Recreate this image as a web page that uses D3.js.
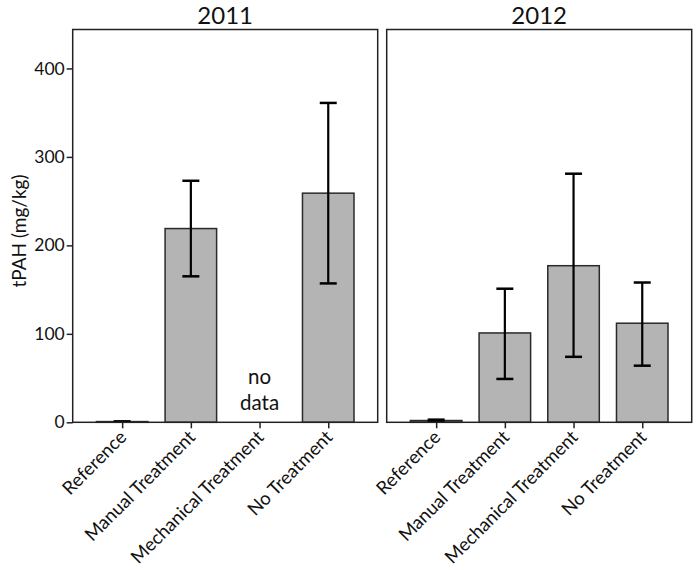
<!DOCTYPE html>
<html><head><meta charset="utf-8">
<script src="https://cdn.jsdelivr.net/npm/d3@7/dist/d3.min.js"></script>
<style>body{margin:0;background:#fff}</style>
</head><body>
<svg id="c" width="696" height="570"></svg>
<script>
const categories = ["Reference", "Manual Treatment", "Mechanical Treatment", "No Treatment"];
const years = ["2011", "2012"];
const means2011 = [0.8, 219, null, 259];
const lower2011 = [0.5, 165, null, 157];
const upper2011 = [1.1, 273, null, 361];
const means2012 = [2, 101, 177, 112];
const lower2012 = [1, 49, 74, 64];
const upper2012 = [3, 151, 281, 158];
const yTicks = [0, 100, 200, 300, 400];
const yLabel = "tPAH (mg/kg)";

const font = "Lato, 'Open Sans', sans-serif";
const svg = d3.select("#c");
const plotTop = 29.5, plotBottom = 422.3;
const y = d3.scaleLinear().domain([0, 444]).range([plotBottom, plotTop]);
const panels = [
  {year: years[0], x0: 72.7, x1: 377.7, m: means2011, lo: lower2011, hi: upper2011},
  {year: years[1], x0: 386.7, x1: 691.7, m: means2012, lo: lower2012, hi: upper2012}
];

panels.forEach((p, pi) => {
  const x = d3.scalePoint().domain(categories).range([p.x0, p.x1]).padding(0.72);
  const bw = x.step() * 0.75;
  const g = svg.append("g");
  categories.forEach((c, i) => {
    if (p.m[i] == null) return;
    g.append("rect").attr("x", x(c) - bw/2).attr("y", y(p.m[i]))
      .attr("width", bw).attr("height", Math.max(0, y(0) - y(p.m[i])))
      .attr("fill", "#b4b4b4").attr("stroke", "#2a2a2a").attr("stroke-width", 1.5);
    if (p.hi[i] - p.lo[i] > 1) {
      g.append("line").attr("x1", x(c)).attr("x2", x(c)).attr("y1", y(p.lo[i])).attr("y2", y(p.hi[i]))
        .attr("stroke", "#000").attr("stroke-width", 2.2);
      [p.lo[i], p.hi[i]].forEach(v => g.append("line").attr("x1", x(c) - 8.5).attr("x2", x(c) + 8.5)
        .attr("y1", y(v)).attr("y2", y(v)).attr("stroke", "#000").attr("stroke-width", 2.5));
    } else {
      g.append("line").attr("x1", x(c) - 8.5).attr("x2", x(c) + 8.5)
        .attr("y1", y(p.hi[i])).attr("y2", y(p.hi[i])).attr("stroke", "#000").attr("stroke-width", 2.5);
    }
  });
  g.append("rect").attr("x", p.x0).attr("y", plotTop).attr("width", p.x1 - p.x0).attr("height", plotBottom - plotTop)
    .attr("fill", "none").attr("stroke", "#222").attr("stroke-width", 1.5);
  const xa = g.append("g").attr("transform", `translate(0,${plotBottom})`)
    .call(d3.axisBottom(x).tickSize(6).tickSizeOuter(0));
  xa.select(".domain").remove();
  xa.selectAll(".tick line").attr("stroke", "#222").attr("stroke-width", 1.5);
  xa.selectAll(".tick text").attr("font-family", font).attr("font-size", 18.5).attr("fill", "#111")
    .attr("text-anchor", "end").attr("dy", null).attr("y", 0)
    .attr("transform", "translate(5,16) rotate(-45)");
  g.append("text").attr("x", (p.x0 + p.x1) / 2).attr("y", 23.5).attr("text-anchor", "middle")
    .attr("font-family", font).attr("font-size", 24).attr("fill", "#111").text(p.year);
  if (pi === 0) {
    const ya = g.append("g").attr("transform", `translate(${p.x0},0)`)
      .call(d3.axisLeft(y).tickValues(yTicks).tickSize(6).tickSizeOuter(0));
    ya.select(".domain").remove();
    ya.selectAll(".tick line").attr("stroke", "#222").attr("stroke-width", 1.5);
    ya.selectAll(".tick text").attr("font-family", font).attr("font-size", 17.5).attr("fill", "#111").attr("x", -8);
    const nd = categories[2];
    g.append("text").attr("x", x(nd)).attr("y", 384).attr("text-anchor", "middle")
      .attr("font-family", font).attr("font-size", 20.5).attr("fill", "#111").text("no");
    g.append("text").attr("x", x(nd)).attr("y", 410).attr("text-anchor", "middle")
      .attr("font-family", font).attr("font-size", 20.5).attr("fill", "#111").text("data");
  }
});
svg.append("text").attr("transform", "translate(26,231) rotate(-90)").attr("text-anchor", "middle")
  .attr("font-family", font).attr("font-size", 19).attr("fill", "#111").text(yLabel);
</script>
</body></html>
